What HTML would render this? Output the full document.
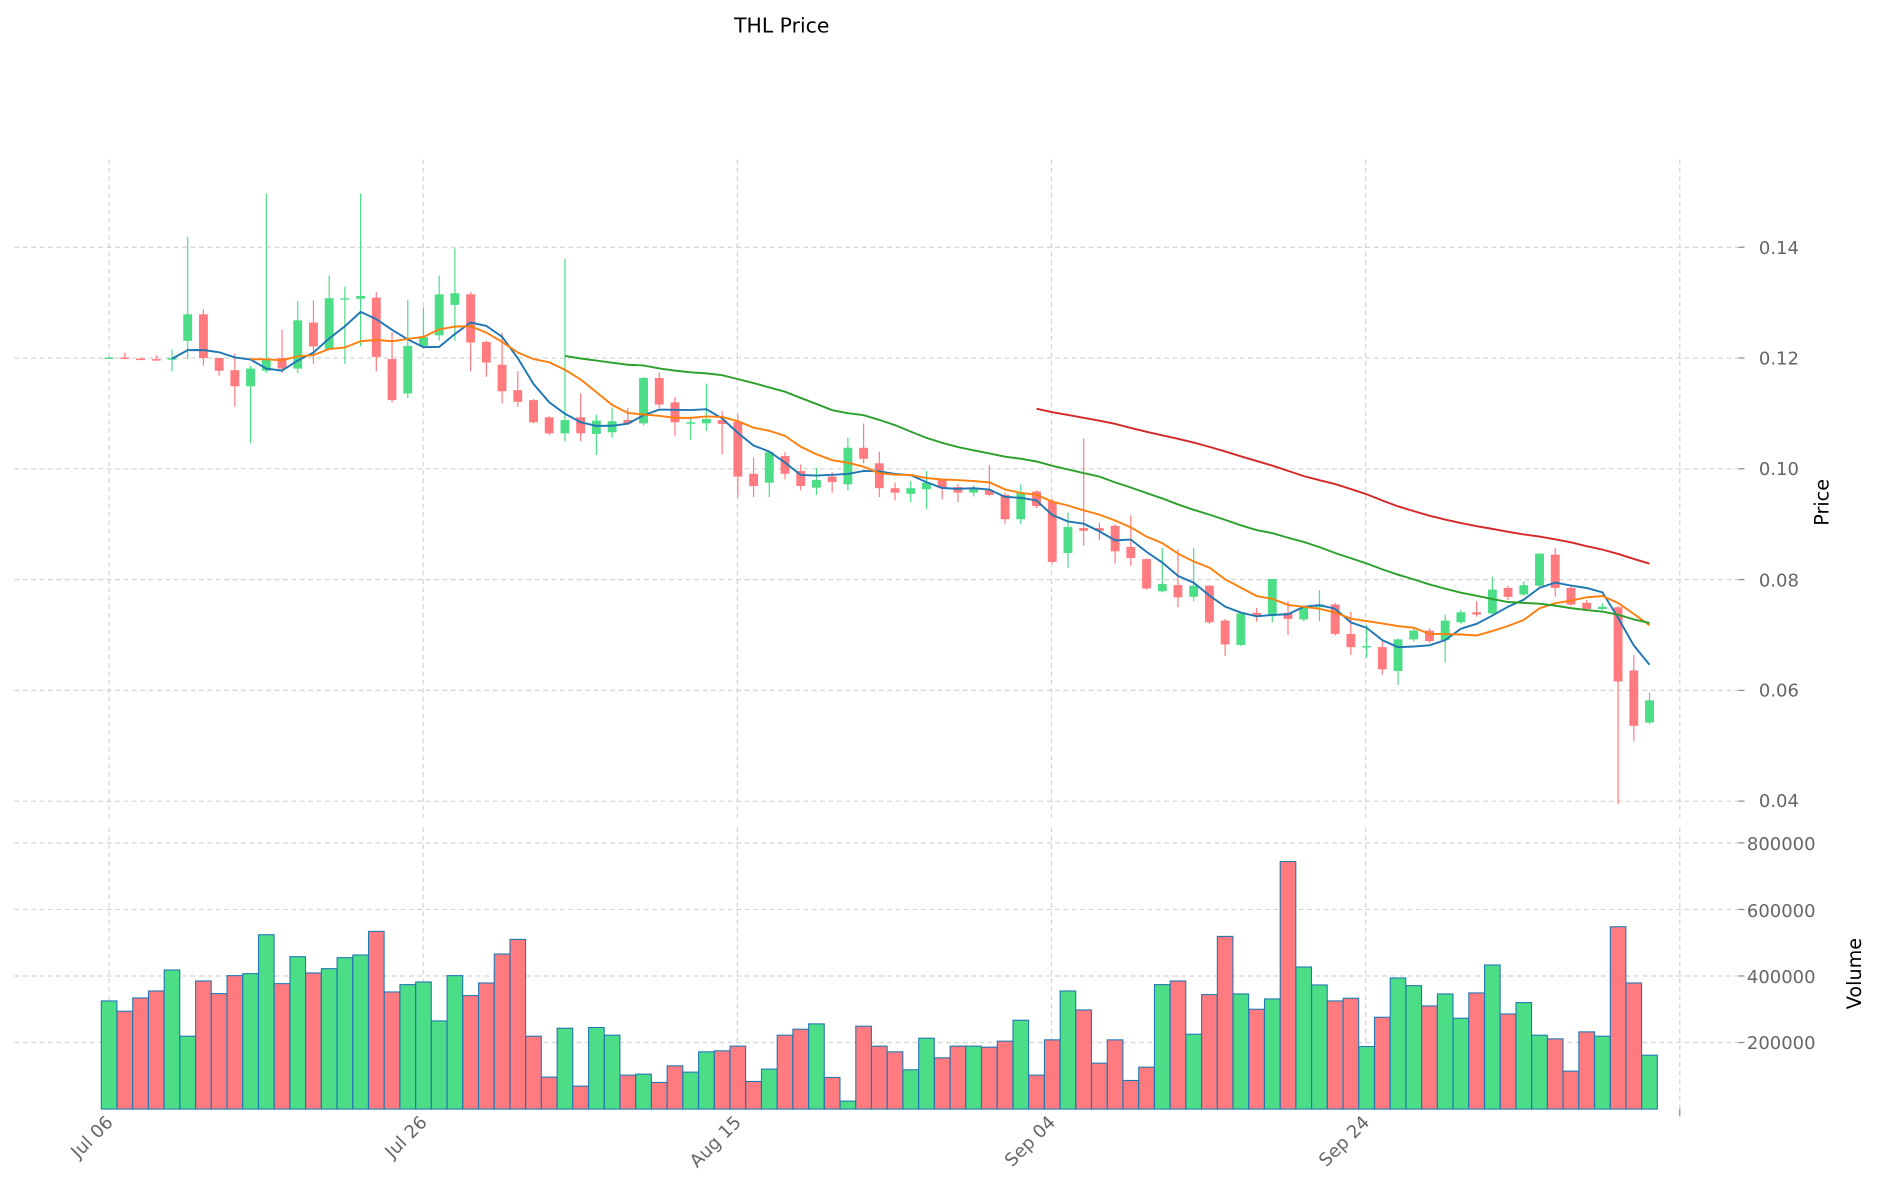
<!DOCTYPE html>
<html><head><meta charset="utf-8">
<style>
html,body{margin:0;padding:0;background:#fff;}
svg{display:block;}
text{font-family:"DejaVu Sans","Liberation Sans",sans-serif;}
</style></head>
<body>
<svg id="c" width="1880" height="1202" viewBox="0 0 1568 1002.5" xmlns="http://www.w3.org/2000/svg">
<rect width="1568" height="1002.5" fill="#fff"/>
<g id="grid" stroke="#d3d3d3" stroke-width="1" stroke-dasharray="4,3" fill="none"></g>
<g id="vol"></g>
<g id="cand"></g>
<g id="ma" fill="none" stroke-width="1.6"></g>
<g fill="#666" font-size="15">
<text x="1467" y="212">0.14</text>
<text x="1467" y="304">0.12</text>
<text x="1467" y="396">0.10</text>
<text x="1467" y="489">0.08</text>
<text x="1467" y="581">0.06</text>
<text x="1467" y="673">0.04</text>
<text x="1457" y="709">800000</text>
<text x="1457" y="765">600000</text>
<text x="1457" y="820">400000</text>
<text x="1457" y="875">200000</text>
<text transform="translate(95,937) rotate(-45)" text-anchor="end">Jul 06</text>
<text transform="translate(357,937) rotate(-45)" text-anchor="end">Jul 26</text>
<text transform="translate(619,937) rotate(-45)" text-anchor="end">Aug 15</text>
<text transform="translate(881,937) rotate(-45)" text-anchor="end">Sep 04</text>
<text transform="translate(1143,937) rotate(-45)" text-anchor="end">Sep 24</text>
</g>
<text transform="translate(1525,419) rotate(-90)" text-anchor="middle" font-size="16" fill="#000">Price</text>
<text transform="translate(1552,812) rotate(-90)" text-anchor="middle" font-size="16" fill="#000">Volume</text>
<text x="652" y="27" text-anchor="middle" font-size="17" fill="#000">THL Price</text>
</svg>
<script>
var D=[
[.1200,.1201,.1202,.1199],[.1201,.1199,.121,.1198],[.1199,.1197,.1200,.1196],[.1198,.1196,.1205,.1195],[.1197,.1200,.1215,.1176],
[.1231,.1279,.1419,.1198],[.1279,.1200,.1288,.1186],[.1200,.1177,.1200,.1168],[.1178,.1149,.1208,.1112],[.1149,.1181,.1186,.1046],
[.1177,.1198,.1497,.1173],[.1200,.1181,.1251,.1173],[.1181,.1268,.1303,.1173],[.1264,.1221,.1304,.1189],[.1216,.1308,.1349,.1214],
[.1306,.1308,.1329,.1189],[.1307,.1312,.1497,.1221],[.1309,.1202,.1319,.1176],[.1198,.1124,.1247,.1120],[.1136,.1222,.1305,.1128],
[.1222,.1238,.1291,.1222],[.1241,.1315,.1349,.1231],[.1296,.1317,.1398,.1231],[.1315,.1228,.1319,.1176],[.1229,.1192,.1231,.1166],
[.1188,.1140,.1245,.1118],[.1142,.1121,.1176,.1112],[.1124,.1084,.1126,.1082],[.1093,.1064,.1095,.1061],[.1064,.1088,.1379,.1049],
[.1093,.1064,.1136,.1050],[.1063,.1087,.1098,.1025],[.1066,.1086,.1110,.1056],[.1088,.1082,.1110,.1079],[.1082,.1164,.1166,.1078],
[.1164,.1116,.1174,.1110],[.1120,.1084,.1130,.1060],[.1082,.1084,.1094,.1052],[.1082,.1090,.1154,.1068],[.1088,.1081,.1104,.1026],
[.1085,.0986,.1098,.0949],[.0991,.0969,.1020,.0949],[.0975,.1030,.1031,.0949],[.1023,.0991,.1030,.0981],[.0996,.0969,.1008,.0961],
[.0966,.0980,.1002,.0953],[.0986,.0976,.0994,.0957],[.0972,.1038,.1056,.0961],[.1038,.1018,.1082,.1010],[.1010,.0965,.1031,.0949],
[.0965,.0957,.0975,.0943],[.0955,.0965,.0978,.0940],[.0963,.0975,.0996,.0927],[.0980,.0965,.0982,.0945],[.0967,.0957,.0973,.0940],
[.0957,.0963,.0970,.0950],[.0961,.0953,.1007,.0950],[.0953,.0909,.0957,.0901],[.0909,.0956,.0972,.0900],[.0959,.0933,.0961,.0929],
[.0941,.0832,.0945,.0829],[.0848,.0895,.0921,.0821],[.0893,.0888,.1055,.0861],[.0893,.0888,.0903,.0871],[.0897,.0851,.0900,.0829],
[.0859,.0839,.0916,.0825],[.0837,.0784,.0838,.0782],[.0779,.0792,.0857,.0777],[.0790,.0768,.0855,.0750],[.0769,.0789,.0857,.0761],
[.0789,.0723,.0790,.0720],[.0726,.0683,.0729,.0662],[.0682,.0739,.0741,.0680],[.0740,.0735,.0749,.0724],[.0734,.0801,.0801,.0723],
[.0740,.0729,.0761,.0700],[.0728,.0750,.0753,.0725],[.0750,.0755,.0781,.0725],[.0755,.0702,.0758,.0699],[.0702,.0678,.0742,.0664],
[.0678,.0680,.0718,.0659],[.0678,.0638,.0688,.0628],[.0635,.0692,.0694,.0610],[.0692,.0708,.0715,.0688],[.0708,.0689,.0712,.0686],
[.0691,.0726,.0737,.0651],[.0723,.0741,.0745,.0720],[.0741,.0737,.0761,.0733],[.0739,.0782,.0805,.0737],[.0785,.0769,.0789,.0763],
[.0773,.0790,.0797,.0771],[.0789,.0847,.0847,.0787],[.0845,.0785,.0857,.0769],[.0785,.0755,.0789,.0753],[.0758,.0747,.0763,.0745],
[.0747,.0751,.0757,.0745],[.0750,.0616,.0752,.0395],[.0636,.0536,.0664,.0508],[.0542,.0582,.0596,.0539]];
var V=[325,294,334,355,418,219,385,347,401,407,524,377,458,409,422,455,463,534,352,374,382,265,401,341,379,466,510,219,96,243,69,245,222,102,105,80,130,111,172,175,189,83,120,222,240,256,95,24,249,189,172,118,213,154,189,189,186,204,267,102,208,355,298,138,208,86,126,374,385,225,344,519,346,300,331,744,427,373,325,333,188,276,394,371,310,346,273,349,433,286,320,222,211,114,232,219,548,379,162];
var NS="http://www.w3.org/2000/svg";
function el(p,t,a){var e=document.createElementNS(NS,t);for(var k in a)e.setAttribute(k,a[k]);p.appendChild(e);return e;}
function X(i){return 91+i*13.11;}
function Y(p){return 391-(p-0.10)*4620;}
function VY(v){return 925-v*1000/200000*55.5;}
var G=document.getElementById('grid');
[206.2,298.6,391,483.4,575.8,668.2,703,758.5,814,869.5].forEach(function(y){el(G,'line',{x1:12,x2:1450,y1:y,y2:y});});
[91,353,615,877,1139,1401].forEach(function(x){el(G,'line',{x1:x,x2:x,y1:133,y2:682});el(G,'line',{x1:x,x2:x,y1:690,y2:925});});
var T=document.querySelector('svg');
[206.2,298.6,391,483.4,575.8,668.2,703,758.5,814,869.5].forEach(function(y){el(T,'line',{x1:1450,x2:1455,y1:y,y2:y,stroke:'#888','stroke-width':1});});
el(T,'line',{x1:1401,x2:1401,y1:925,y2:931,stroke:'#888','stroke-width':1});
var GR="#4cdd87",RD="#ff7b7f";
var VG=document.getElementById('vol'),C=document.getElementById('cand');
D.forEach(function(d,i){
 var up=d[1]>=d[0],col=up?GR:RD,x=X(i);
 var vy=VY(V[i]);
 el(VG,'rect',{x:x-6.5,y:vy,width:13,height:925-vy,fill:col,stroke:'#1f77b4','stroke-width':0.9});
 el(C,'line',{x1:x,x2:x,y1:Y(d[2]),y2:Y(d[3]),stroke:col,'stroke-width':1});
 var t=Y(Math.max(d[0],d[1])),b=Y(Math.min(d[0],d[1]));
 el(C,'rect',{x:x-3.7,y:t,width:7.4,height:Math.max(b-t,1.2),fill:col});
});
var M=document.getElementById('ma');
[[5,'#1f77b4'],[10,'#ff7f0e'],[30,'#2ca02c'],[60,'#d62728']].forEach(function(m){
 var n=m[0],pts=[];
 for(var i=n-1;i<D.length;i++){var s=0;for(var j=i-n+1;j<=i;j++)s+=D[j][1];pts.push(X(i).toFixed(1)+','+Y(s/n).toFixed(1));}
 el(M,'polyline',{points:pts.join(' '),stroke:m[1]});
});
</script>
</body></html>
